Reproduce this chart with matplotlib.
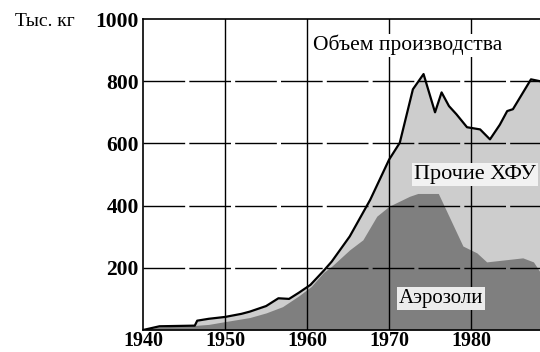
import matplotlib
matplotlib.use("Agg")
import matplotlib.pyplot as plt

# Total production (thousand kg)
total_years = [1940, 1942, 1946.3, 1946.6, 1948, 1950, 1952, 1953, 1955, 1956.5, 1957.8,
               1959, 1960.4, 1962, 1963, 1965.2, 1967.7, 1970, 1971.3, 1972.9, 1974.2,
               1975.6, 1976.4, 1977.3, 1978.2, 1979.5, 1981.1, 1982.3, 1983.5, 1984.4,
               1985.1, 1987.3, 1988.4]
total_vals = [0, 12, 14, 30, 36, 42, 52, 59, 77, 102, 100,
              120, 145, 190, 220, 301, 419, 548, 602, 774, 823,
              700, 764, 720, 694, 652, 645, 613, 660, 704,
              710, 806, 800]

# Aerosols
aer_years = [1940, 1942, 1946, 1948, 1950, 1953, 1955, 1957, 1959, 1960.5, 1962, 1963,
             1965.2, 1966.8, 1968.5, 1970, 1972.5, 1973.5, 1976, 1979, 1980.7, 1981.9,
             1986.3, 1987.6, 1988.4]
aer_vals = [0, 10, 14, 18, 27, 40, 55, 75, 110, 140, 185, 205,
            258, 290, 366, 398, 430, 439, 439, 270, 248, 219,
            232, 219, 187]

x_ticks = [1940, 1950, 1960, 1970, 1980]
y_ticks = [200, 400, 600, 800, 1000]

serif = ["Liberation Serif", "DejaVu Serif"]
plt.rcParams['font.family'] = serif

fig = plt.figure(figsize=(5.4, 3.52), dpi=100)
ax = fig.add_axes([0.265, 0.0625, 0.735, 0.8835])

ax.fill_between(total_years, 0, total_vals, color="#cdcdcd", lw=0, zorder=1)
ax.fill_between(aer_years, 0, aer_vals, color="#7f7f7f", lw=0, zorder=2)
ax.plot(total_years, total_vals, color="black", lw=1.6, zorder=4)

ax.set_xlim(1940, 1988.4)
ax.set_ylim(0, 1000)

for y in y_ticks[:-1]:
    ax.axhline(y, color="black", lw=1, ls=(0, (30, 3)), zorder=3)
for x in x_ticks[1:]:
    ax.axvline(x, color="black", lw=1, zorder=3)

ax.set_xticks(x_ticks)
ax.set_yticks(y_ticks)
ax.tick_params(axis="y", length=0, labelsize=15.5, pad=3)
ax.tick_params(axis="x", length=0, labelsize=14.5, pad=0.5)
for lab in ax.get_xticklabels() + ax.get_yticklabels():
    lab.set_fontweight("semibold")

ax.spines["right"].set_visible(False)
for s in ["left", "top", "bottom"]:
    ax.spines[s].set_linewidth(1.2)
    ax.spines[s].set_zorder(5)

fig.text(15 / 540, 1 - 22 / 352, "Тыс. кг", ha="left", va="center", fontsize=14)

ax.text(1972.2, 916, "Объем производства", ha="center", va="center", fontsize=15.5,
        bbox=dict(facecolor="white", edgecolor="none", pad=1), zorder=6)
ax.text(1980.5, 500, "Прочие ХФУ", ha="center", va="center", fontsize=16,
        bbox=dict(facecolor="#f2f2f2", edgecolor="none", pad=1.5), zorder=6)
ax.text(1976.3, 100, "Аэрозоли", ha="center", va="center", fontsize=15,
        bbox=dict(facecolor="#ececec", edgecolor="none", pad=1.5), zorder=6)

fig.savefig("out.png", dpi=100)
